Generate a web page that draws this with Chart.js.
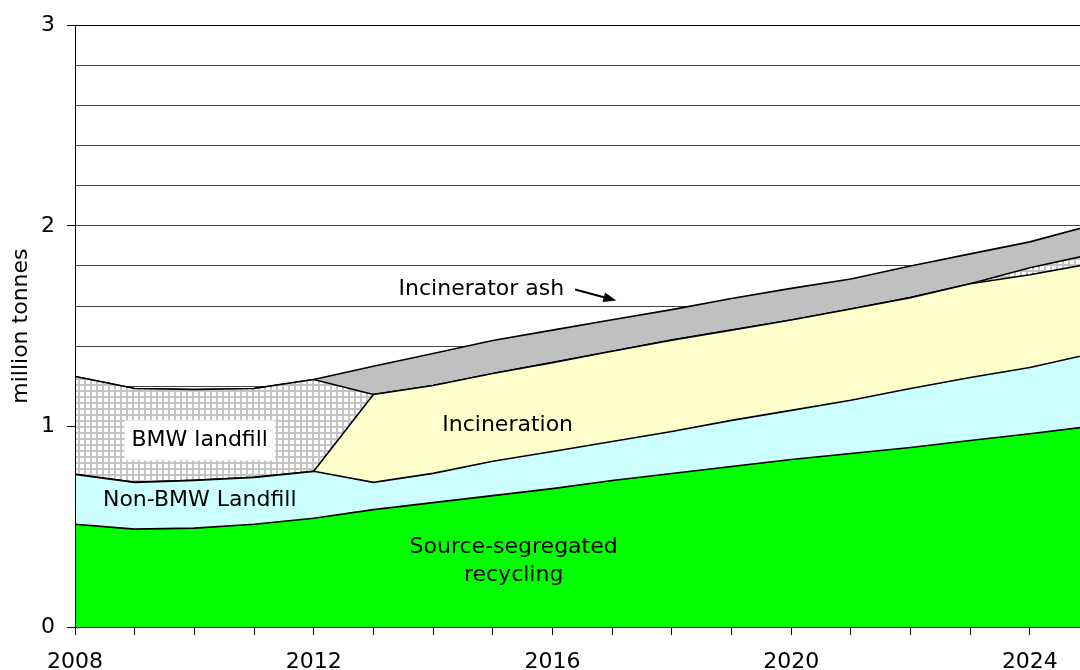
<!DOCTYPE html>
<html>
<head>
<meta charset="utf-8">
<script src="https://cdn.jsdelivr.net/npm/chart.js@4.4.1/dist/chart.umd.min.js"></script>
<style>
  html, body { margin: 0; padding: 0; background: #fff; }
  #wrap { width: 1080px; height: 670px; }
</style>
</head>
<body>
<div id="wrap"><canvas id="area-chart" width="1080" height="670"></canvas></div>
<script>
// years on the x axis
const years = [2008, 2009, 2010, 2011, 2012, 2013, 2014, 2015, 2016, 2017, 2018, 2019, 2020, 2021, 2022, 2023, 2024, 2025];

// million tonnes, stacked from the bottom up
const recycling    = [0.512, 0.488, 0.493, 0.512, 0.542, 0.585, 0.620, 0.655, 0.690, 0.730, 0.765, 0.800, 0.835, 0.865, 0.895, 0.930, 0.963, 1.000];
const nonBmwLandfill = [0.249, 0.233, 0.238, 0.234, 0.234, 0.136, 0.146, 0.171, 0.185, 0.195, 0.210, 0.230, 0.245, 0.265, 0.294, 0.314, 0.331, 0.360];
const incineration = [0, 0, 0, 0, 0, 0.438, 0.438, 0.438, 0.443, 0.450, 0.455, 0.450, 0.450, 0.455, 0.453, 0.467, 0.462, 0.450];
const bmwLandfill  = [0.488, 0.468, 0.453, 0.443, 0.458, 0, 0, 0, 0, 0, 0, 0, 0, 0, 0, 0, 0.035, 0.045];
const incineratorAsh = [0, 0, 0, 0, 0, 0.141, 0.159, 0.164, 0.162, 0.157, 0.152, 0.158, 0.158, 0.150, 0.158, 0.149, 0.129, 0.145];

const xTickYears = [2008, 2009, 2010, 2011, 2012, 2013, 2014, 2015, 2016, 2017, 2018, 2019, 2020, 2021, 2022, 2023, 2024];
const yTicks = [0, 0.2, 0.4, 0.6, 0.8, 1, 1.2, 1.4, 1.6, 1.8, 2, 2.2, 2.4, 2.6, 2.8, 3];

const FONT = '"DejaVu Sans", Verdana, sans-serif';

function toPoints(values) {
    return years.map((yr, i) => ({ x: yr, y: values[i] }));
}

// light grey grid hatch for the BMW landfill band
function makeHatch() {
    const pc = document.createElement('canvas');
    pc.width = 6;
    pc.height = 6;
    const g = pc.getContext('2d');
    g.fillStyle = '#ffffff';
    g.fillRect(0, 0, 6, 6);
    g.fillStyle = '#c4c4c4';
    g.fillRect(0, 0, 6, 2);
    g.fillRect(0, 0, 2, 6);
    return document.getElementById('area-chart').getContext('2d').createPattern(pc, 'repeat');
}

function band(label, values, color, fill) {
    return {
        label: label,
        data: toPoints(values),
        backgroundColor: color,
        borderColor: '#000',
        borderWidth: 1.6,
        pointRadius: 0,
        tension: 0,
        fill: fill
    };
}

const areaLabels = {
    id: 'areaLabels',
    afterDatasetsDraw(chart) {
        const { ctx, scales: { x, y } } = chart;
        ctx.save();
        ctx.font = '22px ' + FONT;
        ctx.textAlign = 'center';
        ctx.textBaseline = 'middle';
        ctx.fillStyle = '#000';

        // BMW landfill label sits in a white box
        const bx = x.getPixelForValue(2010.09), by = y.getPixelForValue(0.93);
        const w = ctx.measureText('BMW landfill').width + 14;
        ctx.fillStyle = '#fff';
        ctx.fillRect(bx - w / 2, by - 20, w, 40);
        ctx.fillStyle = '#000';
        ctx.fillText('BMW landfill', bx, by);

        ctx.fillText('Non-BMW Landfill', x.getPixelForValue(2010.09), y.getPixelForValue(0.632));
        ctx.fillText('Incineration', x.getPixelForValue(2015.25), y.getPixelForValue(1.005));
        ctx.fillText('Source-segregated', x.getPixelForValue(2015.35), y.getPixelForValue(0.398));
        ctx.fillText('recycling', x.getPixelForValue(2015.35), y.getPixelForValue(0.259));
        ctx.fillText('Incinerator ash', x.getPixelForValue(2014.81), y.getPixelForValue(1.685));

        // arrow to the ash band
        const x1 = x.getPixelForValue(2016.38), y1 = y.getPixelForValue(1.682);
        const x2 = x.getPixelForValue(2017.07), y2 = y.getPixelForValue(1.627);
        const ang = Math.atan2(y2 - y1, x2 - x1);
        ctx.strokeStyle = '#000';
        ctx.lineWidth = 2;
        ctx.beginPath();
        ctx.moveTo(x1, y1);
        ctx.lineTo(x2 - 8 * Math.cos(ang), y2 - 8 * Math.sin(ang));
        ctx.stroke();
        ctx.beginPath();
        ctx.moveTo(x2, y2);
        ctx.lineTo(x2 - 13 * Math.cos(ang) + 5 * Math.sin(ang), y2 - 13 * Math.sin(ang) - 5 * Math.cos(ang));
        ctx.lineTo(x2 - 13 * Math.cos(ang) - 5 * Math.sin(ang), y2 - 13 * Math.sin(ang) + 5 * Math.cos(ang));
        ctx.closePath();
        ctx.fill();
        ctx.restore();
    }
};

const datasets = [
    band('Source-segregated recycling', recycling, '#00ff00', 'origin'),
    band('Non-BMW Landfill', nonBmwLandfill, '#ccffff', '-1'),
    band('Incineration', incineration, '#ffffcc', '-1'),
    band('BMW landfill', bmwLandfill, makeHatch(), '-1'),
    band('Incinerator ash', incineratorAsh, '#c0c0c0', '-1')
];

new Chart(document.getElementById('area-chart'), {
    type: 'line',
    data: { datasets: datasets },
    plugins: [areaLabels],
    options: {
        responsive: false,
        animation: false,
        devicePixelRatio: 1,
        layout: { padding: { top: 24, right: 0, left: 0, bottom: 0 } },
        plugins: { legend: { display: false }, tooltip: { enabled: false } },
        scales: {
            x: {
                type: 'linear',
                min: 2008,
                max: 2024.84,
                afterBuildTicks: axis => { axis.ticks = xTickYears.map(v => ({ value: v })); },
                afterFit: axis => { axis.height = 43; },
                grid: { drawOnChartArea: false, drawTicks: true, tickLength: 8, tickColor: '#000' },
                border: { display: true, color: '#000', width: 1, z: 1 },
                ticks: {
                    autoSkip: false,
                    maxRotation: 0,
                    padding: 14,
                    color: '#000',
                    font: { family: FONT, size: 22 },
                    callback: v => (v % 4 === 0 ? String(v) : '')
                }
            },
            y: {
                stacked: true,
                min: 0,
                max: 3,
                afterBuildTicks: axis => { axis.ticks = yTicks.map(v => ({ value: v })); },
                afterFit: axis => { axis.width = 75; },
                grid: {
                    color: c => (c.tick && c.tick.value === 3 ? '#000' : '#444'),
                    lineWidth: 1,
                    drawTicks: true,
                    tickLength: 8,
                    tickColor: c => (c.tick && Number.isInteger(c.tick.value) ? '#000' : 'rgba(0,0,0,0)')
                },
                border: { display: true, color: '#000', width: 1, z: 1 },
                ticks: {
                    autoSkip: false,
                    padding: 12,
                    color: '#000',
                    font: { family: FONT, size: 22 },
                    callback: v => (Number.isInteger(v) ? String(v) : '')
                },
                title: {
                    display: true,
                    text: 'million tonnes',
                    color: '#000',
                    font: { family: FONT, size: 22 },
                    padding: { top: 8, bottom: 0 }
                }
            }
        }
    }
});
</script>
</body>
</html>
